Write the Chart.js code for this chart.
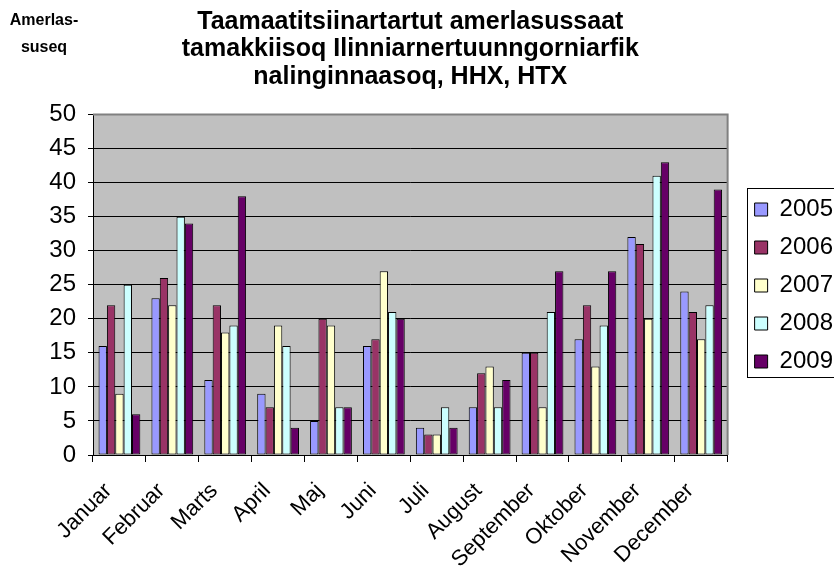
<!DOCTYPE html>
<html>
<head>
<meta charset="utf-8">
<script src="https://cdn.jsdelivr.net/npm/chart.js@4/dist/chart.umd.min.js"></script>
<style>
  body { margin: 0; background: #fff; }
  #wrap { width: 834px; height: 571px; position: relative; overflow: hidden; }
</style>
</head>
<body>
<div id="wrap"><canvas id="chart"></canvas></div>
<script>
var months = ["Januar", "Februar", "Marts", "April", "Maj", "Juni", "Juli",
  "August", "September", "Oktober", "November", "December"];
var years = ["2005", "2006", "2007", "2008", "2009"];
var v2005 = [16, 23, 11, 9, 5, 16, 4, 7, 15, 17, 32, 24];
var v2006 = [22, 26, 22, 7, 20, 17, 3, 12, 15, 22, 31, 21];
var v2007 = [9, 22, 18, 19, 19, 27, 3, 13, 7, 13, 20, 17];
var v2008 = [25, 35, 19, 16, 7, 21, 7, 7, 21, 19, 41, 22];
var v2009 = [6, 34, 38, 4, 7, 20, 4, 11, 27, 27, 43, 39];
var colors = ["#9999ff", "#993366", "#ffffcc", "#ccffff", "#660066"];
var titleLines = ["Taamaatitsiinartartut amerlasussaat",
  "tamakkiisoq Ilinniarnertuunngorniarfik", "nalinginnaasoq, HHX, HTX"];
var yTitle = ["Amerlas-", "suseq"];

var FONT = "'Liberation Sans', Arial, sans-serif";

var series = [v2005, v2006, v2007, v2008, v2009];
var datasets = series.map(function(vals, i) {
  return {
    label: years[i],
    data: vals,
    backgroundColor: colors[i],
    borderColor: "#000",
    borderWidth: 1,
    borderSkipped: false,
    categoryPercentage: 0.79,
    barPercentage: 1.0
  };
});

// grey plot area + frame, legend frame, axis title
var decor = {
  id: "decor",
  beforeDraw: function(chart) {
    var a = chart.chartArea, ctx = chart.ctx;
    ctx.save();
    ctx.fillStyle = "#c0c0c0";
    ctx.fillRect(a.left, a.top, a.right - a.left, a.bottom - a.top);
    ctx.restore();
  },
  afterDraw: function(chart) {
    var a = chart.chartArea, ctx = chart.ctx;
    ctx.save();
    ctx.strokeStyle = "#808080";
    ctx.lineWidth = 2;
    ctx.beginPath();
    ctx.moveTo(a.left, a.top);
    ctx.lineTo(a.right, a.top);
    ctx.lineTo(a.right, a.bottom);
    ctx.stroke();

    var boxes = chart.legend.legendHitBoxes;
    if (boxes && boxes.length) {
      var l = boxes[0].left - 8, t = boxes[0].top - 10;
      var last = boxes[boxes.length - 1];
      ctx.strokeStyle = "#000";
      ctx.lineWidth = 1;
      ctx.strokeRect(Math.round(l) + 0.5, Math.round(t) + 0.5, 140,
        Math.round(last.top + last.height + 3 - t));
    }

    ctx.fillStyle = "#000";
    ctx.font = "bold 16px " + FONT;
    ctx.textAlign = "center";
    ctx.textBaseline = "middle";
    ctx.fillText(yTitle[0], 44, 21);
    ctx.fillText(yTitle[1], 44, 48);
    ctx.restore();
  }
};

new Chart(document.getElementById("chart"), {
  type: "bar",
  data: { labels: months, datasets: datasets },
  plugins: [decor],
  options: {
    responsive: true,
    maintainAspectRatio: false,
    animation: false,
    layout: { padding: { top: 0, right: -9, left: 0, bottom: 0 } },
    plugins: {
      title: {
        display: true,
        fullSize: false,
        text: titleLines,
        color: "#000",
        font: { family: FONT, size: 25, weight: "bold", lineHeight: 1.1 },
        padding: { top: 8, bottom: 24 }
      },
      legend: {
        position: "right",
        labels: {
          color: "#000",
          font: { family: FONT, size: 24 },
          boxWidth: 13,
          boxHeight: 13,
          padding: 14
        }
      },
      tooltip: { enabled: false }
    },
    scales: {
      x: {
        offset: true,
        grid: {
          offset: true,
          drawOnChartArea: false,
          drawTicks: true,
          tickLength: 7,
          color: "#000"
        },
        border: { color: "#000", width: 1 },
        ticks: {
          color: "#000",
          minRotation: 45,
          maxRotation: 45,
          padding: 16,
          labelOffset: -11,
          font: { family: FONT, size: 22 }
        },
        afterFit: function(s) { s.height = 116; }
      },
      y: {
        min: 0,
        max: 50,
        ticks: {
          stepSize: 5,
          color: "#000",
          padding: 12,
          font: { family: FONT, size: 24 }
        },
        grid: { color: "#000", lineWidth: 1, tickLength: 5 },
        border: { color: "#000", width: 1 },
        afterFit: function(s) { s.width = 93; }
      },
      gap: {
        position: "right",
        display: true,
        grid: { drawOnChartArea: false, drawTicks: false, display: false },
        border: { display: false },
        ticks: { display: false },
        afterFit: function(s) { s.width = 13; }
      }
    }
  }
});
</script>
</body>
</html>
